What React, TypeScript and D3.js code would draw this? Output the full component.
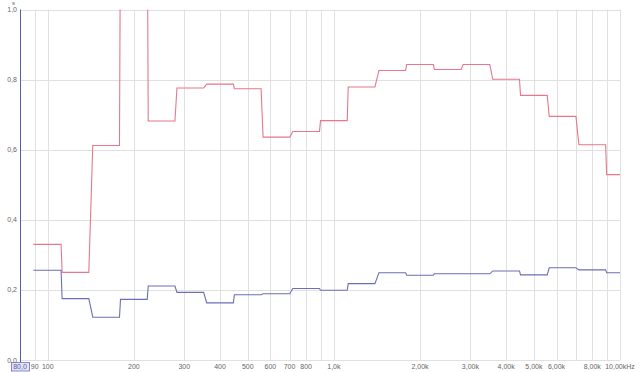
import { useEffect, useRef } from 'react';
import * as d3 from 'd3';

// 1/3 octave band centres (Hz) and reverberation time (s)
const bands = [100, 125, 160, 200, 250, 315, 400, 500, 630, 800, 1000, 1250, 1600, 2000, 2500, 3150, 4000, 5000, 6300, 8000, 10000];
const redValues = [0.33, 0.25, 0.612, 1.3, 0.682, 0.776, 0.787, 0.774, 0.636, 0.652, 0.683, 0.779, 0.826, 0.843, 0.829, 0.843, 0.801, 0.755, 0.695, 0.614, 0.529];
const blueValues = [0.256, 0.175, 0.122, 0.173, 0.211, 0.193, 0.163, 0.186, 0.189, 0.204, 0.199, 0.218, 0.249, 0.242, 0.246, 0.246, 0.254, 0.243, 0.263, 0.257, 0.249];

const yTicks = [0, 0.2, 0.4, 0.6, 0.8, 1.0];
const xGrid = [90, 100, 200, 300, 400, 500, 600, 700, 800, 900, 1000, 2000, 3000, 4000, 5000, 6000, 7000, 8000, 9000, 10000];
const xLabels: [number, string][] = [
  [90, '90'], [100, '100'], [200, '200'], [300, '300'], [400, '400'], [500, '500'],
  [600, '600'], [700, '700'], [800, '800'], [1000, '1,0k'], [2000, '2,00k'], [3000, '3,00k'],
  [4000, '4,00k'], [5000, '5,00k'], [6000, '6,00k'], [8000, '8,00k'], [10000, '10,00kHz'],
];

const W = 640;
const H = 372;
const PLOT = { left: 20, right: 620, top: 9.5, bottom: 360 };

export default function App() {
  const ref = useRef<SVGSVGElement>(null);

  useEffect(() => {
    if (!ref.current) return;
    const svg = d3.select(ref.current);
    svg.selectAll('*').remove();

    const x = d3.scaleLog().domain([80, 10000]).range([PLOT.left, PLOT.right]);
    const y = d3.scaleLinear().domain([0, 1]).range([PLOT.bottom, PLOT.top]);

    svg.append('rect').attr('width', W).attr('height', H).attr('fill', '#fff');

    svg.append('clipPath').attr('id', 'plotclip')
      .append('rect')
      .attr('x', PLOT.left).attr('y', PLOT.top)
      .attr('width', PLOT.right - PLOT.left + 1)
      .attr('height', PLOT.bottom - PLOT.top);

    // grid
    svg.append('g').selectAll('line').data(xGrid).join('line')
      .attr('x1', (d) => Math.round(x(d)) + 0.5).attr('x2', (d) => Math.round(x(d)) + 0.5)
      .attr('y1', PLOT.top).attr('y2', PLOT.bottom)
      .attr('stroke', '#e0e0e0').attr('stroke-width', 1);
    svg.append('g').selectAll('line').data(yTicks).join('line')
      .attr('x1', PLOT.left).attr('x2', PLOT.right)
      .attr('y1', (d) => Math.round(y(d)) + 0.5).attr('y2', (d) => Math.round(y(d)) + 0.5)
      .attr('stroke', '#e0e0e0').attr('stroke-width', 1);

    // step curves
    const k = Math.pow(2, 1 / 6);
    const stepPoints = (vals: number[]) =>
      bands.flatMap((f, i) => {
        const lo = f / k;
        const hi = Math.min(f * k, 10000);
        const xl = i === 0 ? x(lo) : x(lo) + 1;
        const xh = i === bands.length - 1 ? x(hi) : x(hi) - 1;
        return [[xl, y(vals[i])], [xh, y(vals[i])]] as [number, number][];
      });
    const line = d3.line<[number, number]>();

    const curves = svg.append('g').attr('clip-path', 'url(#plotclip)');
    curves.append('path').attr('d', line(stepPoints(redValues)))
      .attr('fill', 'none').attr('stroke', '#e5788a').attr('stroke-width', 1.1);
    curves.append('path').attr('d', line(stepPoints(blueValues)))
      .attr('fill', 'none').attr('stroke', '#6e6eb8').attr('stroke-width', 1.1);

    // left axis line
    svg.append('line')
      .attr('x1', PLOT.left + 0.5).attr('x2', PLOT.left + 0.5)
      .attr('y1', PLOT.top).attr('y2', 362)
      .attr('stroke', '#5a5aa6').attr('stroke-width', 1);

    const font = 'Arial, "Liberation Sans", sans-serif';

    // y labels
    svg.append('g').selectAll('text').data(yTicks).join('text')
      .attr('x', 17).attr('y', (d) => y(d) + 2.5)
      .attr('text-anchor', 'end')
      .attr('font-size', 7).attr('fill', '#666').attr('font-family', font)
      .text((d) => d.toFixed(1).replace('.', ','));
    svg.append('text').attr('x', 13.5).attr('y', 5)
      .attr('text-anchor', 'middle')
      .attr('font-size', 6).attr('fill', '#666').attr('font-family', font)
      .text('s');

    // x labels
    svg.append('g').selectAll('text').data(xLabels).join('text')
      .attr('x', (d) => x(d[0])).attr('y', 369)
      .attr('text-anchor', 'middle')
      .attr('font-size', 7).attr('fill', '#666').attr('font-family', font)
      .text((d) => d[1]);

    // start-frequency box
    svg.append('rect')
      .attr('x', 11.5).attr('y', 362.5).attr('width', 18).attr('height', 8.5)
      .attr('fill', '#e2e4f6').attr('stroke', '#6e6eb8').attr('stroke-width', 0.8);
    svg.append('text')
      .attr('x', x(80)).attr('y', 369.3)
      .attr('text-anchor', 'middle')
      .attr('font-size', 7).attr('fill', '#5a5aa6').attr('font-family', font)
      .text('80,0');
  }, []);

  return (
    <svg
      ref={ref}
      width={W}
      height={H}
      style={{ position: 'fixed', left: 0, top: 0, display: 'block' }}
    />
  );
}
